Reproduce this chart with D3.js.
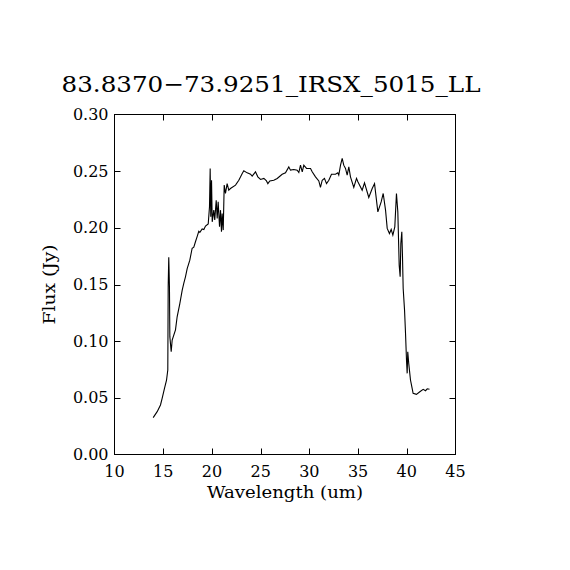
<!DOCTYPE html>
<html>
<head>
<meta charset="utf-8">
<script src="https://cdn.jsdelivr.net/npm/d3@7"></script>
<style>
  body { margin: 0; background: #fff; }
  svg text { font-family: "DejaVu Serif", serif; fill: #000; }
</style>
</head>
<body>
<svg id="chart" width="570" height="570"></svg>
<script>
// Spectrum values
const wavelength = [13.97, 14.38, 14.72, 14.89, 15.13, 15.34, 15.47, 15.51, 15.57, 15.64, 15.68, 15.82,
  15.92, 16.26, 16.43, 16.70, 16.95, 17.11, 17.29, 17.46, 17.73, 17.97, 18.14, 18.31,
  18.49, 18.65, 18.76, 19.00, 19.17, 19.34, 19.62, 19.75, 19.82, 19.88, 19.96, 20.03, 20.19, 20.29,
  20.44, 20.54, 20.64, 20.78, 20.88, 20.98, 21.05, 21.16, 21.26, 21.39, 21.56, 21.73, 21.90, 22.42,
  22.76, 23.11, 23.27, 23.62, 23.96, 24.13,
  24.47, 24.71, 24.99, 25.33, 25.60, 25.74, 25.94, 26.35, 26.70, 27.21, 27.55, 27.89, 28.06, 28.40,
  28.75, 28.92, 29.09, 29.27, 29.43, 29.71, 30.12, 30.29, 30.63, 30.97, 31.14, 31.32, 31.55, 31.76,
  32.00, 32.27, 32.68, 32.92, 33.02, 33.20, 33.37, 33.53, 33.71, 33.88, 34.05, 34.22, 34.56, 34.84,
  34.98, 35.42, 35.66, 36.10, 36.45, 36.69, 37.03, 37.37, 37.58, 37.82, 37.99, 38.22, 38.40, 38.57,
  38.77, 38.94, 39.08, 39.22, 39.32, 39.39, 39.49, 39.56, 39.63, 39.77, 39.87, 39.97, 40.04, 40.10,
  40.20, 40.38, 40.55, 40.65, 40.99, 41.34, 41.68, 41.92, 42.10, 42.33];
const flux = [0.0325, 0.0378, 0.0437, 0.0495, 0.0583, 0.0657, 0.0745, 0.148, 0.174, 0.148, 0.104, 0.0906,
  0.101, 0.110, 0.1215, 0.133, 0.145, 0.151, 0.157, 0.164, 0.1715, 0.182, 0.183, 0.1877,
  0.1925, 0.197, 0.1960, 0.1990, 0.1985, 0.2015, 0.2035, 0.2185, 0.2524, 0.2097, 0.242, 0.2053, 0.2156, 0.207,
  0.2244, 0.2083, 0.2229, 0.2009, 0.2156, 0.1965, 0.2127, 0.198, 0.2377, 0.2303, 0.239, 0.2333, 0.2347, 0.2377,
  0.242, 0.248, 0.2503, 0.2485, 0.2473, 0.2456,
  0.2494, 0.245, 0.2427, 0.2436, 0.2414, 0.239, 0.2414, 0.242, 0.2436, 0.2473, 0.2485, 0.2538, 0.2509, 0.2515,
  0.2509, 0.2488, 0.2553, 0.2494, 0.2553, 0.2524, 0.2524, 0.2494, 0.245, 0.2414, 0.2356, 0.242, 0.2436, 0.239,
  0.242, 0.2473, 0.2473, 0.2485, 0.2465, 0.2553, 0.2612, 0.2553, 0.2524, 0.2465, 0.2538, 0.245, 0.2356, 0.2436,
  0.2406, 0.2332, 0.2397, 0.2268, 0.2347, 0.239, 0.2141, 0.2229, 0.2303, 0.2156, 0.1995, 0.195, 0.1986, 0.1936,
  0.2009, 0.2303, 0.2141, 0.1671, 0.1568, 0.1862, 0.1965, 0.1744, 0.1465, 0.1274, 0.1069, 0.0833, 0.0716, 0.0906,
  0.0804, 0.0657, 0.0583, 0.054, 0.0531, 0.0554, 0.0575, 0.0563, 0.058, 0.0575];

const xTicks = [10, 15, 20, 25, 30, 35, 40, 45];
const yTicks = [0, 0.05, 0.10, 0.15, 0.20, 0.25, 0.30];
const title  = "83.8370\u221273.9251_IRSX_5015_LL";

const svg = d3.select("#chart");
const box = { left: 114.5, right: 455.5, top: 114.5, bottom: 454.5 };

const x = d3.scaleLinear().domain([10, 45]).range([box.left, box.right]);
const y = d3.scaleLinear().domain([0, 0.30]).range([box.bottom, box.top]);

// frame
svg.append("rect")
  .attr("x", box.left).attr("y", box.top)
  .attr("width", box.right - box.left).attr("height", box.bottom - box.top)
  .attr("fill", "none").attr("stroke", "#000").attr("stroke-width", 1);

// inward ticks on all four sides
const tickLen = 6;
const tk = svg.append("g").attr("stroke", "#000").attr("stroke-width", 1);
xTicks.slice(1, -1).forEach(v => {
  const px = Math.round(x(v)) + 0.5;
  tk.append("line").attr("x1", px).attr("x2", px).attr("y1", box.bottom).attr("y2", box.bottom - tickLen);
  tk.append("line").attr("x1", px).attr("x2", px).attr("y1", box.top).attr("y2", box.top + tickLen);
});
yTicks.slice(1, -1).forEach(v => {
  const py = Math.round(y(v)) + 0.5;
  tk.append("line").attr("y1", py).attr("y2", py).attr("x1", box.left).attr("x2", box.left + tickLen);
  tk.append("line").attr("y1", py).attr("y2", py).attr("x1", box.right).attr("x2", box.right - tickLen);
});

// tick labels
svg.append("g").selectAll("text").data(xTicks).join("text")
  .attr("x", d => x(d)).attr("y", box.bottom + 22)
  .attr("text-anchor", "middle").attr("font-size", 16)
  .text(d => d);
svg.append("g").selectAll("text").data(yTicks).join("text")
  .attr("x", box.left - 6).attr("y", d => y(d) + 5.5)
  .attr("text-anchor", "end").attr("font-size", 16)
  .text(d => d.toFixed(2));

// axis titles
svg.append("text")
  .attr("x", (box.left + box.right) / 2).attr("y", 498)
  .attr("text-anchor", "middle").attr("font-size", 16)
  .attr("textLength", 156).attr("lengthAdjust", "spacingAndGlyphs")
  .text("Wavelength (um)");
svg.append("text")
  .attr("transform", `translate(55,${(box.top + box.bottom) / 2}) rotate(-90)`)
  .attr("text-anchor", "middle").attr("font-size", 16)
  .attr("textLength", 80).attr("lengthAdjust", "spacingAndGlyphs")
  .text("Flux (Jy)");

// title
svg.append("text")
  .attr("x", 271).attr("y", 92)
  .attr("text-anchor", "middle").attr("font-size", 23)
  .attr("textLength", 419).attr("lengthAdjust", "spacingAndGlyphs")
  .text(title);

// spectrum
const pts = wavelength.map((w, i) => [w, flux[i]]);
svg.append("path")
  .datum(pts)
  .attr("fill", "none").attr("stroke", "#000").attr("stroke-width", 1.1)
  .attr("d", d3.line().x(d => x(d[0])).y(d => y(d[1])));
</script>
</body>
</html>
